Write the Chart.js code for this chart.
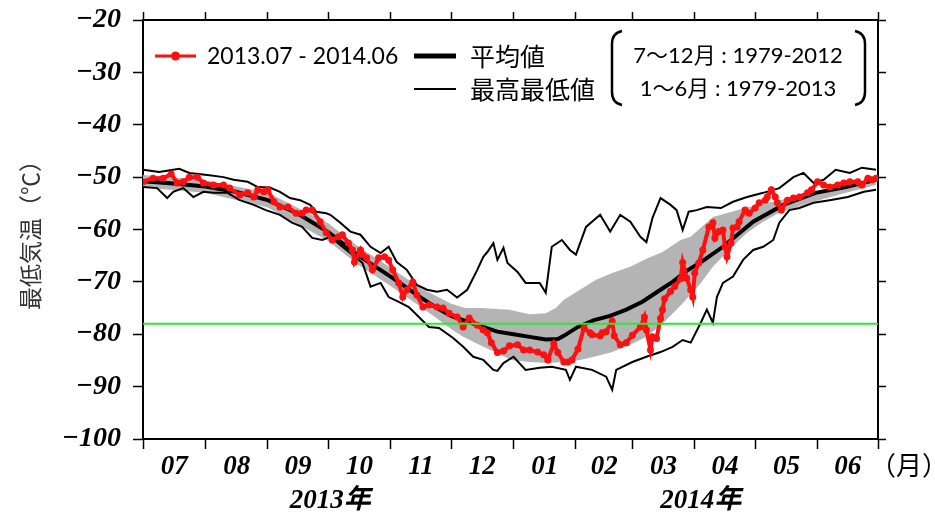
<!DOCTYPE html>
<html><head><meta charset="utf-8">
<script src="https://cdn.jsdelivr.net/npm/chart.js@4"></script>
<style>html,body{margin:0;padding:0;background:#fff;} #c{display:block;}</style>
</head><body>
<canvas id="c" width="935" height="521"></canvas>
<script>
// ---- Data (x = days since 2013-07-01) ----
const monthBoundaries = [0, 31, 62, 92, 123, 153, 184, 215, 243, 274, 304, 335, 365];
const monthLabels = ['07', '08', '09', '10', '11', '12', '01', '02', '03', '04', '05', '06'];
const yTicks = [-100, -90, -80, -70, -60, -50, -40, -30, -20];
const thresholdTemp = -78;

const obsDays = [0,5,10,14,17,20,23,27,30,35,40,43,48,52,55,57,60,62,65,68,72,76,79,81,84,88,91,94,97,99,102,104,105,108,109,111,114,117,120,122,124,127,129,131,134,136,139,142,146,149,152,156,159,162,166,169,171,173,176,179,182,186,189,192,196,199,201,204,206,209,211,213,216,219,222,223,227,228,230,233,234,237,240,243,247,249,250,252,253,255,257,258,259,262,264,267,268,270,272,273,274,276,278,281,283,284,286,288,289,290,292,293,295,296,299,301,304,306,309,310,312,314,315,317,320,323,326,330,332,335,338,341,345,348,351,355,357,360,362,364];
const obsTemps = [-50.9,-50.2,-50.2,-49.4,-51.1,-50.9,-50.0,-50.0,-51.1,-51.5,-51.5,-52.1,-53.4,-53.0,-53.8,-52.4,-52.8,-52.4,-54.7,-55.7,-55.7,-56.9,-56.9,-56.3,-56.3,-58.5,-60.6,-62.0,-61.4,-61.0,-62.6,-63.9,-66.2,-63.9,-64.8,-65.4,-67.7,-65.4,-65.2,-65.8,-67.7,-70.2,-72.9,-71.5,-70.0,-72.5,-74.8,-74.4,-74.8,-75.0,-76.0,-76.7,-78.6,-76.9,-78.3,-79.2,-79.7,-81.6,-83.5,-83.2,-82.2,-82.0,-83.0,-83.0,-83.4,-83.9,-84.9,-81.8,-83.5,-85.3,-85.3,-84.9,-82.8,-78.8,-79.7,-80.1,-80.3,-79.7,-79.5,-77.5,-80.3,-82.0,-81.6,-80.2,-78.6,-76.7,-79.2,-83.0,-80.5,-80.8,-77.0,-75.3,-73.2,-71.8,-70.9,-69.4,-66.3,-69.3,-71.5,-72.9,-68.3,-66.4,-63.9,-59.5,-58.7,-61.6,-60.4,-60.1,-63.3,-65.2,-62.6,-59.7,-59.5,-58.5,-56.3,-56.9,-55.9,-54.9,-54.4,-53.8,-52.4,-53.8,-54.9,-56.3,-54.4,-54.0,-53.8,-53.0,-52.4,-50.9,-51.5,-51.9,-51.5,-51.1,-50.9,-50.9,-51.5,-50.2,-50.5,-50.2];

const meanDays = [0,15,31,46,62,77,92,107,123,138,146,153,159,168,176,184,192,200,206,209,216,224,232,240,248,257,263,270,278,288,303,318,334,349,364];
const meanTemps = [-50.8,-51.2,-51.8,-52.8,-54.4,-57.0,-60.5,-65.0,-69.0,-73.0,-75.0,-76.5,-77.3,-78.5,-79.5,-80.0,-80.5,-81.0,-80.9,-80.3,-78.6,-77.3,-76.5,-75.3,-73.8,-71.5,-70.0,-67.9,-66.0,-63.3,-58.5,-55.3,-53.0,-51.9,-50.5];

const maxDays = [0,8,18,23,32,40,45,52,57,63,68,73,78,83,86,91,93,98,103,108,113,118,122,126,131,136,141,146,151,156,161,166,169,171,174,176,179,181,186,190,197,200,203,208,212,215,220,227,232,237,242,247,250,253,257,262,265,268,271,275,280,287,293,300,308,316,323,328,333,338,344,351,357,364];
const maxTemps = [-48.6,-49.0,-48.4,-49.2,-49.6,-50.0,-50.5,-50.9,-51.9,-52.0,-52.8,-54.0,-54.4,-55.3,-56.6,-56.9,-57.2,-58.7,-60.4,-61.0,-63.3,-64.5,-63.3,-66.2,-67.7,-70.6,-71.5,-71.9,-71.5,-73.0,-71.5,-67.7,-65.2,-64.3,-62.6,-65.8,-63.5,-66.4,-68.1,-70.2,-70.2,-72.1,-63.3,-62.0,-63.9,-64.8,-59.5,-57.2,-60.4,-57.2,-58.5,-61.4,-62.4,-57.8,-54.0,-55.3,-56.3,-60.1,-56.6,-56.3,-55.7,-55.9,-54.7,-53.8,-53.0,-52.1,-50.0,-49.2,-51.1,-50.5,-48.6,-49.2,-48.2,-48.6];

const minDays = [0,7,12,15,20,25,30,35,42,48,55,61,68,74,79,84,89,93,99,104,109,113,118,122,127,132,137,142,147,154,159,164,169,174,176,179,184,190,197,203,210,212,215,223,230,233,235,243,250,257,263,268,272,277,280,283,285,288,293,298,303,308,313,316,321,326,333,341,350,358,364];
const minTemps = [-51.9,-52.1,-54.0,-52.8,-52.1,-53.8,-52.8,-53.0,-53.0,-54.4,-55.3,-56.3,-57.2,-58.7,-59.5,-61.6,-62.0,-61.4,-63.3,-64.8,-66.4,-70.9,-70.2,-72.9,-73.8,-74.8,-76.7,-78.6,-78.8,-80.7,-82.4,-84.3,-84.9,-86.8,-87.0,-85.5,-84.3,-86.8,-86.4,-86.2,-86.8,-88.7,-86.2,-86.8,-88.1,-90.6,-86.8,-85.3,-84.3,-83.4,-82.4,-81.1,-81.6,-77.8,-75.3,-77.8,-72.9,-70.2,-69.0,-65.8,-63.9,-63.3,-62.0,-58.7,-56.3,-55.9,-54.9,-54.4,-53.8,-52.8,-52.4];

const bandUpperDays = [0,31,62,92,107,123,138,146,153,160,168,182,192,200,205,209,217,225,233,242,250,258,267,272,283,299,316,333,349,364];
const bandUpperTemps = [-49.6,-50.6,-53.0,-58.8,-63.3,-67.3,-71.2,-72.8,-74.2,-75.0,-75.0,-75.3,-76.2,-76.0,-75.0,-73.4,-71.5,-69.6,-68.3,-67.1,-65.6,-64.3,-62.0,-61.4,-57.6,-55.9,-54.4,-53.0,-51.9,-50.3];
const bandLowerDays = [0,31,62,92,107,123,138,146,153,159,167,175,183,192,201,209,217,225,233,242,250,258,267,277,283,291,300,308,316,333,349,364];
const bandLowerTemps = [-52.0,-53.0,-55.8,-62.2,-66.8,-70.8,-74.8,-77.0,-79.0,-80.5,-82.0,-83.5,-84.9,-85.3,-85.5,-85.3,-84.9,-84.2,-83.4,-82.0,-80.5,-78.0,-74.5,-70.2,-67.1,-63.9,-60.6,-58.5,-56.8,-54.7,-53.0,-51.5];

const legendObs = '2013.07 - 2014.06';
const legendMean = '平均値';
const legendMaxMin = '最高最低値';
const periodLines = ['7～12月 : 1979-2012', '1～6月 : 1979-2013'];
const yearLabels = [{text: '2013年', day: 93}, {text: '2014年', day: 277}];
const monthUnit = '（月）';
const yTitle = '最低気温（℃）';

// ---- Chart ----
const toXY = (d, v) => d.map((x, i) => ({x: x, y: v[i]}));
const monthMids = monthLabels.map((_, i) => (monthBoundaries[i] + monthBoundaries[i + 1]) / 2);
const SERIF = "'Liberation Serif', 'Times New Roman', 'Noto Sans CJK JP', serif";
const tickFont = {family: SERIF, size: 27, style: 'italic', weight: 'bold'};
const yTickFont = {family: SERIF, size: 28, style: 'italic', weight: 'bold', lineHeight: 0.55};
const RED = '#ff1010';
const boundaryTicks = s => { s.ticks = monthBoundaries.map(v => ({value: v})); };

const decorPlugin = {
  id: 'decor',
  afterDraw(chart) {
    const ctx = chart.ctx;
    const xs = chart.scales.x;
    ctx.save();
    ctx.fillStyle = '#000';
    ctx.textBaseline = 'middle';
    // year labels
    ctx.font = "italic bold 27px " + SERIF;
    ctx.textAlign = 'center';
    yearLabels.forEach(y => ctx.fillText(y.text, xs.getPixelForValue(y.day), 501));
    // month unit
    ctx.font = "26px 'Noto Sans CJK JP'";
    ctx.textAlign = 'left';
    ctx.fillText(monthUnit, 870, 465);
    // legend
    ctx.lineCap = 'butt';
    ctx.strokeStyle = RED; ctx.lineWidth = 3;
    ctx.beginPath(); ctx.moveTo(155, 56); ctx.lineTo(196, 56); ctx.stroke();
    ctx.fillStyle = RED;
    ctx.beginPath(); ctx.arc(175.5, 56, 4.5, 0, Math.PI * 2); ctx.fill();
    ctx.fillStyle = '#000';
    ctx.font = "23px Lato, 'Noto Sans CJK JP'";
    ctx.fillText(legendObs, 207, 57);
    ctx.strokeStyle = '#000';
    ctx.lineWidth = 5;
    ctx.beginPath(); ctx.moveTo(414, 56); ctx.lineTo(456, 56); ctx.stroke();
    ctx.lineWidth = 2;
    ctx.beginPath(); ctx.moveTo(414, 89); ctx.lineTo(456, 89); ctx.stroke();
    ctx.font = "25px 'Noto Sans CJK JP'";
    ctx.fillText(legendMean, 470, 56);
    ctx.fillText(legendMaxMin, 470, 89);
    // brackets
    ctx.lineWidth = 2.5;
    ctx.beginPath();
    ctx.moveTo(622, 31); ctx.quadraticCurveTo(612, 33, 612, 44);
    ctx.lineTo(612, 92); ctx.quadraticCurveTo(612, 103, 622, 105);
    ctx.stroke();
    ctx.beginPath();
    ctx.moveTo(855, 31); ctx.quadraticCurveTo(865, 33, 865, 44);
    ctx.lineTo(865, 92); ctx.quadraticCurveTo(865, 103, 855, 105);
    ctx.stroke();
    ctx.font = "22px Lato, 'Noto Sans CJK JP'";
    ctx.textAlign = 'center';
    ctx.fillText(periodLines[0], 738, 56);
    ctx.fillText(periodLines[1], 738, 89);
    ctx.restore();
  }
};

new Chart(document.getElementById('c'), {
  type: 'line',
  data: {
    datasets: [
      {label: 'threshold', data: [{x: 0, y: thresholdTemp}, {x: 365, y: thresholdTemp}], borderColor: '#2ee82e', borderWidth: 2, pointRadius: 0, order: 0},
      {label: 'obs', data: toXY(obsDays, obsTemps), borderColor: RED, backgroundColor: RED, borderWidth: 4, pointRadius: 3.5, pointBorderWidth: 0, pointBackgroundColor: RED, order: 1},
      {label: 'mean', data: toXY(meanDays, meanTemps), borderColor: '#000', borderWidth: 4, pointRadius: 0, order: 2},
      {label: 'max', data: toXY(maxDays, maxTemps), borderColor: '#000', borderWidth: 2, pointRadius: 0, order: 3},
      {label: 'min', data: toXY(minDays, minTemps), borderColor: '#000', borderWidth: 2, pointRadius: 0, order: 4},
      {label: 'bandUpper', data: toXY(bandUpperDays, bandUpperTemps), borderWidth: 0, borderColor: 'rgba(0,0,0,0)', pointRadius: 0, fill: '+1', backgroundColor: '#b4b4b4', order: 5},
      {label: 'bandLower', data: toXY(bandLowerDays, bandLowerTemps), borderWidth: 0, borderColor: 'rgba(0,0,0,0)', pointRadius: 0, fill: false, order: 6}
    ]
  },
  options: {
    responsive: false,
    animation: false,
    layout: {padding: 0},
    elements: {line: {tension: 0}},
    plugins: {legend: {display: false}, tooltip: {enabled: false}},
    scales: {
      x: {
        type: 'linear', position: 'bottom', min: 0, max: 365,
        afterBuildTicks: s => { s.ticks = monthBoundaries.concat(monthMids).sort((a, b) => a - b).map(v => ({value: v})); },
        ticks: {autoSkip: false, maxRotation: 0, padding: 2, font: tickFont, color: '#000',
          callback: v => { const i = monthMids.indexOf(v); return i >= 0 ? monthLabels[i] : ''; }},
        grid: {drawOnChartArea: false, tickLength: 10, tickWidth: 1.5,
          tickColor: c => (c.tick && monthBoundaries.includes(c.tick.value)) ? '#000' : 'rgba(0,0,0,0)'},
        border: {color: '#000', width: 2},
        afterFit: s => { s.height = 82; }
      },
      x2: {
        type: 'linear', position: 'top', min: 0, max: 365,
        afterBuildTicks: boundaryTicks,
        ticks: {display: false},
        grid: {drawOnChartArea: false, tickLength: 8, tickWidth: 1.5, tickColor: '#000'},
        border: {color: '#000', width: 2},
        afterFit: s => { s.height = 20; }
      },
      y: {
        type: 'linear', position: 'left', min: -100, max: -20,
        afterBuildTicks: s => { s.ticks = yTicks.map(v => ({value: v})); },
        ticks: {font: yTickFont, color: '#000', padding: 12,
          callback: v => (v < 0 ? '\u2212' + Math.abs(v) : String(v))},
        grid: {drawOnChartArea: false, tickLength: 10, tickWidth: 1.5, tickColor: '#000'},
        border: {color: '#000', width: 2},
        title: {display: true, text: yTitle, color: '#333', font: {family: "'Noto Sans CJK JP'", size: 23}, padding: {top: 16, bottom: 0}},
        afterFit: s => { s.width = 143; }
      },
      y2: {
        type: 'linear', position: 'right', min: -100, max: -20,
        afterBuildTicks: s => { s.ticks = yTicks.map(v => ({value: v})); },
        ticks: {display: false},
        grid: {drawOnChartArea: false, tickLength: 8, tickWidth: 1.5, tickColor: '#000'},
        border: {color: '#000', width: 2},
        afterFit: s => { s.width = 57; }
      }
    }
  },
  plugins: [decorPlugin]
});
</script>
</body></html>
